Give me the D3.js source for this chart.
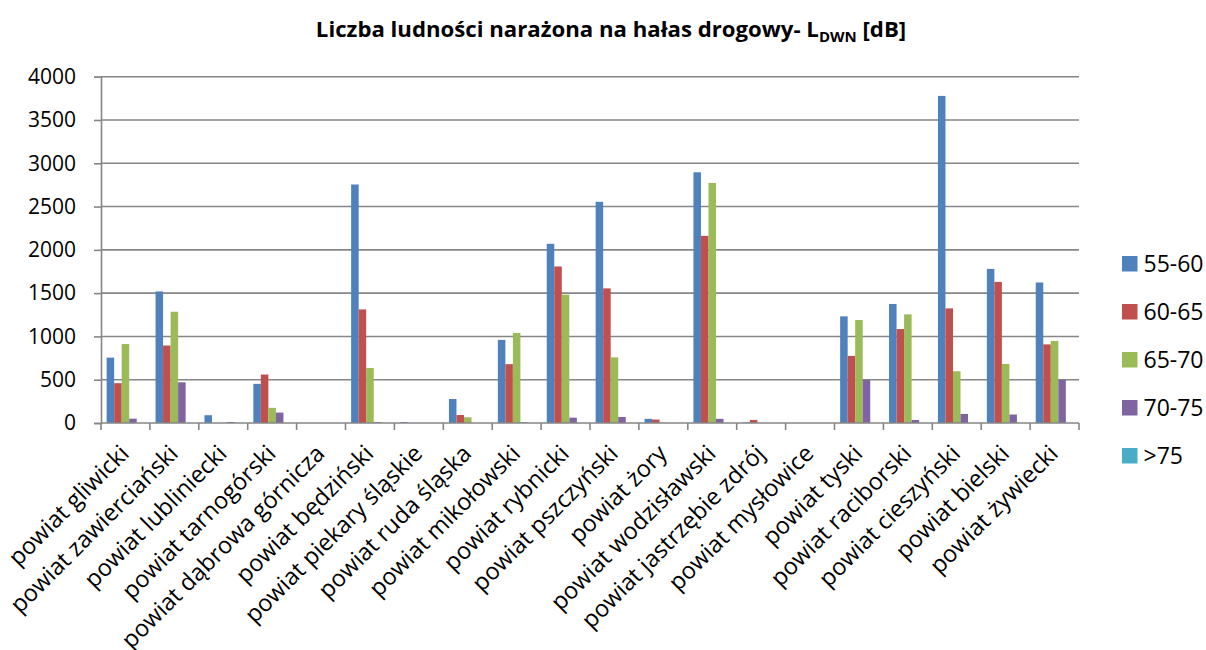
<!DOCTYPE html>
<html>
<head>
<meta charset="utf-8">
<script src="https://cdn.jsdelivr.net/npm/d3@7"></script>
<style>
  html, body { margin: 0; padding: 0; background: #fff; }
  svg { display: block; font-family: "Open Sans", "Noto Sans", sans-serif; }
</style>
</head>
<body>
<svg id="chart" width="1206" height="650"></svg>
<script>
// Road-noise exposure per county, split by L_DWN band
const categories = [
  "powiat gliwicki", "powiat zawierciański", "powiat lubliniecki", "powiat tarnogórski",
  "powiat dąbrowa górnicza", "powiat będziński", "powiat piekary śląskie", "powiat ruda śląska",
  "powiat mikołowski", "powiat rybnicki", "powiat pszczyński", "powiat żory",
  "powiat wodzisławski", "powiat jastrzębie zdrój", "powiat mysłowice", "powiat tyski",
  "powiat raciborski", "powiat cieszyński", "powiat bielski", "powiat żywiecki"
];
const seriesNames = ["55-60", "60-65", "65-70", "70-75", ">75"];
const v55_60 = [755, 1520, 90, 452, 0, 2755, 10, 277, 960, 2070, 2555, 48, 2896, 8, 0, 1232, 1375, 3778, 1780, 1623];
const v60_65 = [460, 895, 0, 560, 0, 1312, 0, 92, 680, 1808, 1555, 40, 2162, 35, 0, 775, 1085, 1324, 1630, 908];
const v65_70 = [912, 1285, 0, 175, 0, 635, 0, 66, 1040, 1482, 758, 5, 2773, 0, 0, 1190, 1255, 598, 682, 948];
const v70_75 = [50, 470, 12, 120, 0, 10, 0, 0, 8, 62, 70, 0, 48, 0, 0, 500, 35, 105, 98, 498];
const vOver75 = [0, 0, 0, 0, 0, 0, 0, 0, 0, 0, 0, 0, 0, 0, 0, 0, 0, 0, 0, 0];
const seriesValues = [v55_60, v60_65, v65_70, v70_75, vOver75];
const colors = ["#4F81BD", "#C0504D", "#9BBB59", "#8064A2", "#4BACC6"];
const yTicks = [0, 500, 1000, 1500, 2000, 2500, 3000, 3500, 4000];

const svg = d3.select("#chart");
const plot = { left: 101, right: 1079, top: 76.7, bottom: 423 };
const axisColor = "#868686";

const x0 = d3.scaleBand().domain(categories).range([plot.left, plot.right]).padding(0);
const bw = x0.bandwidth() / 6.5; // bar width with 150% gap
const x1 = d3.scaleBand().domain(seriesNames)
  .range([0.75 * bw, x0.bandwidth() - 0.75 * bw]).padding(0);
const y = d3.scaleLinear().domain([0, 4000]).range([plot.bottom, plot.top]);

// Title with subscript
const title = svg.append("text")
  .attr("x", 611).attr("y", 37)
  .attr("text-anchor", "middle")
  .attr("font-weight", "bold")
  .attr("font-size", 22.2)
  .attr("fill", "#000");
title.append("tspan").text("Liczba ludności narażona na hałas drogowy- L");
title.append("tspan").attr("font-size", 15).attr("dy", 5).text("DWN");
title.append("tspan").attr("dy", -5).text(" [dB]");

// Gridlines
svg.append("g").selectAll("line").data(yTicks.filter(d => d > 0)).join("line")
  .attr("x1", plot.left).attr("x2", plot.right)
  .attr("y1", d => y(d)).attr("y2", d => y(d))
  .attr("stroke", axisColor).attr("stroke-width", 1.6);

// Y axis
const yAxis = svg.append("g")
  .attr("transform", `translate(${plot.left},0)`)
  .call(d3.axisLeft(y).tickValues(yTicks).tickSize(7).tickPadding(18).tickFormat(d3.format("d")));
yAxis.select(".domain").attr("stroke", axisColor).attr("stroke-width", 1.6);
yAxis.selectAll(".tick line").attr("stroke", axisColor).attr("stroke-width", 1.6);
yAxis.selectAll(".tick text").attr("font-size", 21).attr("fill", "#000")
  .attr("font-family", "'Open Sans', sans-serif");

// Bars
const groups = svg.append("g").selectAll("g")
  .data(categories).join("g")
  .attr("transform", d => `translate(${x0(d)},0)`);
groups.selectAll("rect")
  .data((c, i) => seriesNames.map((s, k) => ({ s, k, v: seriesValues[k][i] })))
  .join("rect")
  .attr("x", d => x1(d.s))
  .attr("width", x1.bandwidth())
  .attr("y", d => y(d.v))
  .attr("height", d => y(0) - y(d.v))
  .attr("fill", d => colors[d.k]);

// X axis baseline and category ticks
svg.append("line")
  .attr("x1", plot.left).attr("x2", plot.right)
  .attr("y1", plot.bottom).attr("y2", plot.bottom)
  .attr("stroke", axisColor).attr("stroke-width", 1.6);
const tickXs = categories.map(c => x0(c)).concat([x0(categories[categories.length - 1]) + x0.bandwidth()]);
svg.append("g").selectAll("line").data(tickXs).join("line")
  .attr("x1", d => d).attr("x2", d => d)
  .attr("y1", plot.bottom).attr("y2", plot.bottom + 7)
  .attr("stroke", axisColor).attr("stroke-width", 1.6);

// Rotated category labels
svg.append("g").selectAll("text").data(categories).join("text")
  .attr("transform", d => `translate(${x0(d) + x0.bandwidth() / 2 + 5},${plot.bottom + 32}) rotate(-45)`)
  .attr("text-anchor", "end")
  .attr("font-size", 23.5)
  .attr("fill", "#000")
  .text(d => d);

// Legend
const legend = svg.append("g").selectAll("g").data(seriesNames).join("g")
  .attr("transform", (d, i) => `translate(1122,${256 + i * 48})`);
legend.append("rect").attr("width", 15.5).attr("height", 15.5)
  .attr("fill", (d, i) => colors[i]);
legend.append("text").attr("x", 21.5).attr("y", 16)
  .attr("font-size", 23).attr("fill", "#000").text(d => d);
</script>
</body>
</html>
